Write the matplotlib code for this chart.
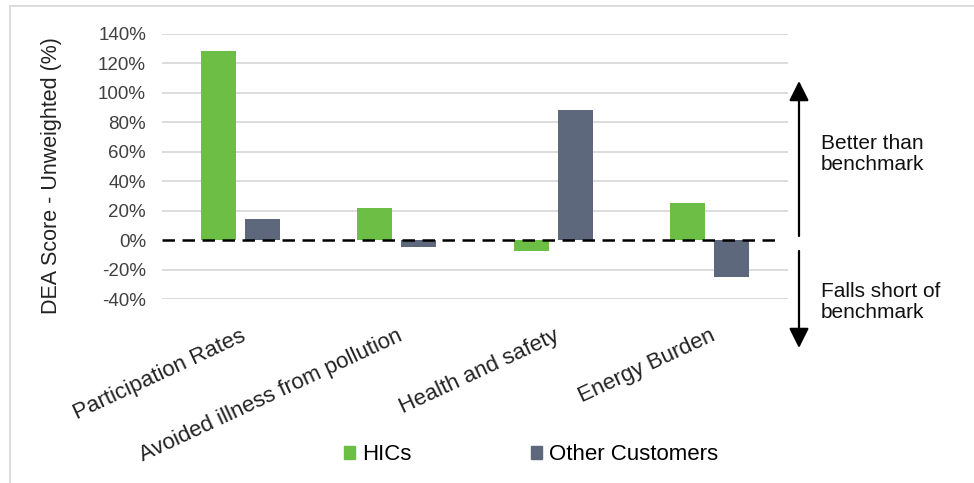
import matplotlib
matplotlib.use("Agg")
import matplotlib.pyplot as plt
from matplotlib.patches import Rectangle, Patch, FancyArrowPatch
from matplotlib.ticker import FuncFormatter
import numpy as np

categories = ["Participation Rates", "Avoided illness from pollution",
              "Health and safety", "Energy Burden"]
hics = [128.6, 21.8, -7.5, 25.2]
other_customers = [14.3, -4.8, 88.4, -25.2]
series_names = ["HICs", "Other Customers"]
y_ticks = [-40, -20, 0, 20, 40, 60, 80, 100, 120, 140]

GREEN = "#6DBE45"
SLATE = "#5E687C"
GRID = "#D9D9D9"

plt.rcParams["font.family"] = ["Liberation Sans", "DejaVu Sans"]

fig = plt.figure(figsize=(9.74, 4.83), dpi=100)
ax = fig.add_axes([162 / 974, 1 - 299 / 483, (788 - 162) / 974, (299 - 34) / 483])

x = np.arange(len(categories))
width = 0.225
offset = 0.14
ax.bar(x - offset, hics, width, color=GREEN, zorder=2, label=series_names[0])
ax.bar(x + offset, other_customers, width, color=SLATE, zorder=2, label=series_names[1])

ax.set_xlim(-0.5, len(categories) - 0.5)
ax.set_ylim(-40, 140)
ax.set_yticks(y_ticks)
ax.yaxis.set_major_formatter(FuncFormatter(lambda v, p: f"{v:.0f}%"))
for t in y_ticks:
    if t != 0:
        ax.axhline(t, color=GRID, lw=1.3, zorder=0)

# benchmark line at zero
ax.plot([-0.5, 3.44], [0, 0], color="black", lw=1.8, ls=(0, (5.0, 3.0)), zorder=3,
        clip_on=False)

for s in ax.spines.values():
    s.set_visible(False)
ax.tick_params(axis="both", length=0)
ax.tick_params(axis="y", labelsize=13.5, colors="#404040", pad=11.5)
ax.set_xticks(x)
ax.set_xticklabels(categories, rotation=25, ha="right", rotation_mode="anchor",
                   fontsize=16, color="#222222")
ax.tick_params(axis="x", pad=19)
ax.set_ylabel("DEA Score - Unweighted (%)", fontsize=15.5, color="#222222")
ax.yaxis.set_label_coords(-0.159, 0.464)

# arrows showing direction relative to the benchmark
ax_x = 799 / 974
for y0, y1 in [(236, 81), (251, 348)]:
    fig.add_artist(FancyArrowPatch(
        (ax_x, 1 - y0 / 483), (ax_x, 1 - y1 / 483), transform=fig.transFigure,
        arrowstyle="-|>,head_length=0.6,head_width=0.3", mutation_scale=20,
        color="black", lw=1.6, shrinkA=0, shrinkB=0))
fig.text(821 / 974, 1 - 154 / 483, "Better than\nbenchmark", fontsize=15,
         va="center", ha="left", linespacing=1.15, color="#111111")
fig.text(821 / 974, 1 - 302 / 483, "Falls short of\nbenchmark", fontsize=15,
         va="center", ha="left", linespacing=1.15, color="#111111")

handles = [Patch(color=GREEN), Patch(color=SLATE)]
fig.legend(handles, series_names, loc="center", bbox_to_anchor=(531 / 974, 1 - 455 / 483),
           ncol=2, frameon=False, fontsize=16, handlelength=0.5, handleheight=0.5,
           handletextpad=0.3, columnspacing=5.4)

# outer frame
fig.add_artist(Rectangle((9.5 / 974, -0.1), 1.2, 1 - 5.5 / 483 + 0.1,
                         transform=fig.transFigure, fill=False, edgecolor="#D9D9D9",
                         lw=1.3))

fig.savefig("out.png", dpi=100)
